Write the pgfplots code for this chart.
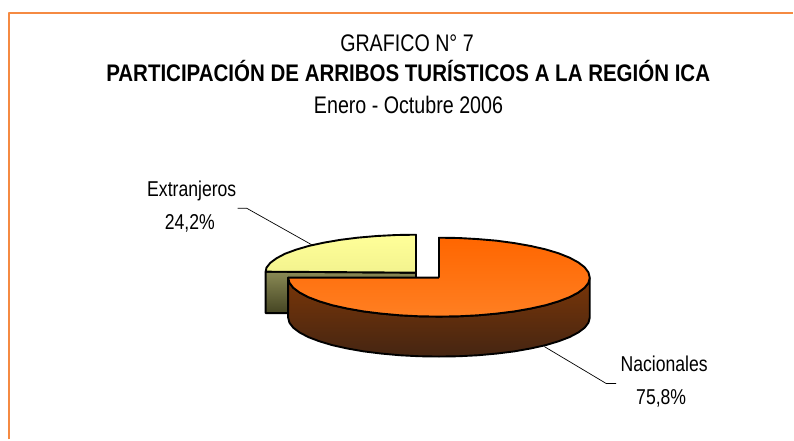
\documentclass[border=0pt]{standalone}
\usepackage{fontspec}
\setmainfont[FakeStretch=0.82]{Liberation Sans}
\newfontfamily\titulo[FakeStretch=0.855]{Liberation Sans}
\usepackage{pgfplots}
\pgfplotsset{compat=1.18}
\definecolor{marco}{HTML}{F58A42}
\definecolor{amaA}{HTML}{FFFF99}
\definecolor{amaB}{HTML}{F3F38E}
\definecolor{oliA}{HTML}{8A8A55}
\definecolor{oliB}{HTML}{444422}
\definecolor{narA}{HTML}{FF6600}
\definecolor{narB}{HTML}{FF7F22}
\definecolor{marA}{HTML}{7A3608}
\definecolor{marB}{HTML}{452512}
\begin{document}
\begin{tikzpicture}
\begin{axis}[
  width=794pt, height=440pt, scale only axis,
  xmin=0, xmax=794, ymin=0, ymax=440, y dir=reverse,
  axis lines=none, clip=false,
  every axis plot/.append style={line join=round},
]
% marco
\addplot[draw=marco, line width=2pt] coordinates {(9,440) (9,13) (794,13)};
% extranjeros: lado
\addplot[draw=black, line width=1.9pt, shade, top color=oliA, bottom color=oliB] coordinates {
 (266,272) (266,313.5) (416.5,313.5) (416.5,273) (266,272)};
% extranjeros: cara
\addplot[draw=black, line width=1.9pt, shade, top color=amaA, bottom color=amaB] coordinates {
 (416.5,273) (416.5,235) (396.8,235.3) (377.4,236.3) (358.7,237.9) (341,240.1) (324.6,242.9) (309.7,246.1) (296.7,249.9) (285.5,254) (277,258.5) (270.6,263.2) (266.8,268) (266,272) (416.5,273)};
% nacionales: lado
\addplot[draw=black, line width=1.9pt, shade, top color=marA, bottom color=marB] coordinates {
 (590.5,278) (589.2,283.1) (585.4,288.1) (579,292.9) (570.3,297.5) (559.3,301.7) (546.3,305.6) (531.4,308.9) (515,311.8) (497.3,314) (478.6,315.7) (459.2,316.7) (439.5,317)
 (419.8,316.7) (400.4,315.7) (381.7,314) (364,311.8) (347.6,308.9) (332.7,305.6) (319.7,301.7) (308.7,297.5) (300,292.9) (293.6,288.1) (289.8,283.1) (288.5,278)
 (288.5,318) (289.8,323.1) (293.6,328.1) (300,332.9) (308.7,337.5) (319.7,341.7) (332.7,345.6) (347.6,348.9) (364,351.8) (381.7,354) (400.4,355.7) (419.8,356.7) (439.5,357)
 (459.2,356.7) (478.6,355.7) (497.3,354) (515,351.8) (531.4,348.9) (546.3,345.6) (559.3,341.7) (570.3,337.5) (579,332.9) (585.4,328.1) (589.2,323.1) (590.5,318) (590.5,278)};
% nacionales: cara
\addplot[draw=black, line width=1.9pt, shade, top color=narA, bottom color=narB] coordinates {
 (439.5,278) (439.5,238) (459.2,238.3) (478.6,239.4) (497.3,241) (515,243.4) (531.4,246.3) (546.3,249.7) (559.3,253.6) (570.3,258) (579,262.7) (585.4,267.6) (589.2,272.8) (590.5,278)
 (589.2,283.1) (585.4,288.1) (579,292.9) (570.3,297.5) (559.3,301.7) (546.3,305.6) (531.4,308.9) (515,311.8) (497.3,314) (478.6,315.7) (459.2,316.7) (439.5,317)
 (419.8,316.7) (400.4,315.7) (381.7,314) (364,311.8) (347.6,308.9) (332.7,305.6) (319.7,301.7) (308.7,297.5) (300,292.9) (293.6,288.1) (289.8,283.1) (288.5,278) (439.5,278)};
% guias
\addplot[draw=black, line width=0.7pt] coordinates {(238,208.5) (247,208.5) (312,245)};
\addplot[draw=black, line width=0.7pt] coordinates {(545,347) (607,384) (617,384)};
% textos
\node[font=\fontsize{24}{24}\selectfont, anchor=base] at (axis cs:407.5,52) {GRAFICO N° 7};
\node[font=\fontsize{24}{24}\titulo\bfseries, anchor=base] at (axis cs:408.7,82) {PARTICIPACIÓN DE ARRIBOS TURÍSTICOS A LA REGIÓN ICA};
\node[font=\fontsize{24}{24}\selectfont, anchor=base] at (axis cs:409,114) {Enero - Octubre 2006};
\node[font=\fontsize{21.5}{21.5}\selectfont, anchor=base] at (axis cs:192,197) {Extranjeros};
\node[font=\fontsize{21.5}{21.5}\selectfont, anchor=base] at (axis cs:190,230) {24,2\%};
\node[font=\fontsize{21.5}{21.5}\selectfont, anchor=base] at (axis cs:665,372) {Nacionales};
\node[font=\fontsize{21.5}{21.5}\selectfont, anchor=base] at (axis cs:662,405) {75,8\%};
\end{axis}
\path (0,0) rectangle (794pt,440pt);
\end{tikzpicture}
\end{document}
